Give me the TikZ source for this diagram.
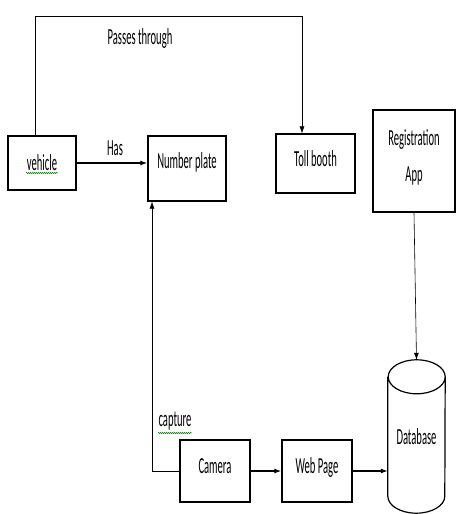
\documentclass[tikz,border=0pt]{standalone}
\usepackage{fontspec}
\setmainfont{Carlito}[FakeStretch=0.46]
\usepackage{tikz}
\usetikzlibrary{arrows.meta,positioning,decorations.pathmorphing}
\tikzset{
  bx/.style={draw, line width=1.2pt, align=center, inner sep=0pt,
             font=\fontsize{23}{36}\selectfont},
  lbl/.style={inner sep=0pt, font=\fontsize{23}{26}\selectfont},
  ar/.style={-{Latex[length=7pt,width=5pt]}, line width=1.3pt},
  thinar/.style={-{Latex[length=7pt,width=5pt]}, line width=0.6pt},
  squiggle/.style={draw=green!55!black, line width=0.5pt,
                   decorate, decoration={snake, amplitude=0.7pt, segment length=2pt}},
}
\begin{document}
\begin{tikzpicture}[x=1pt, y=1pt]
  \useasboundingbox (0,0) rectangle (456,514);
  % top row
  \node[bx, minimum width=68, minimum height=54] (vehicle) at (42,351) {vehicle};
  \node[bx, minimum width=78, minimum height=65, text depth=15pt] (plate) at (187,345.5) {Number plate};
  \node[bx, minimum width=79, minimum height=59, text depth=9pt] (toll) at (315.5,350.5) {Toll booth};
  \node[bx, minimum width=82, minimum height=102, text depth=11pt] (regapp) at (414,353) {Registration\\App};
  % bottom row
  \node[bx, minimum width=70, minimum height=62, text depth=10pt] (camera) at (215,43) {Camera};
  \node[bx, minimum width=70, minimum height=62, text depth=10pt] (webpage) at (317,43) {Web Page};
  \node[minimum width=57, minimum height=153, inner sep=0pt, font=\fontsize{23}{26}\selectfont]
        (db) at (416.5,77.5) {Database};
  % cylinder for the database
  \draw[line width=1.2pt] ([yshift=-17]db.north west) -- ([yshift=17]db.south west)
    arc[start angle=180, end angle=360, x radius=28.5, y radius=17]
    -- ([yshift=-17]db.north east)
    arc[start angle=0, end angle=360, x radius=28.5, y radius=17];
  % connectors
  \coordinate (over) at (35,498);
  \draw[thinar] ([xshift=-7pt]vehicle.north) |- (over) -| ([xshift=-13.5pt]toll.north);
  \draw[ar] (vehicle) -- (plate.west |- vehicle);
  \coordinate (turn) at (152,43);
  \draw[thinar] (camera.west) -- (turn) -- (turn |- plate.south);
  \draw[ar] (camera) -- (webpage);
  \draw[ar] (webpage) -- (db.west |- webpage);
  \draw[thinar] (regapp.south) -- (db.north);
  % labels
  \node[lbl] (passes) at (140,476) {Passes through};
  \node[lbl] (has) at (115,366) {Has};
  \node[lbl] (capture) at (175,93) {capture};
  % spell-check marks
  \draw[squiggle] (26,341) -- (58,341);
  \draw[squiggle] (158,81) -- (192,81);
\end{tikzpicture}
\end{document}
